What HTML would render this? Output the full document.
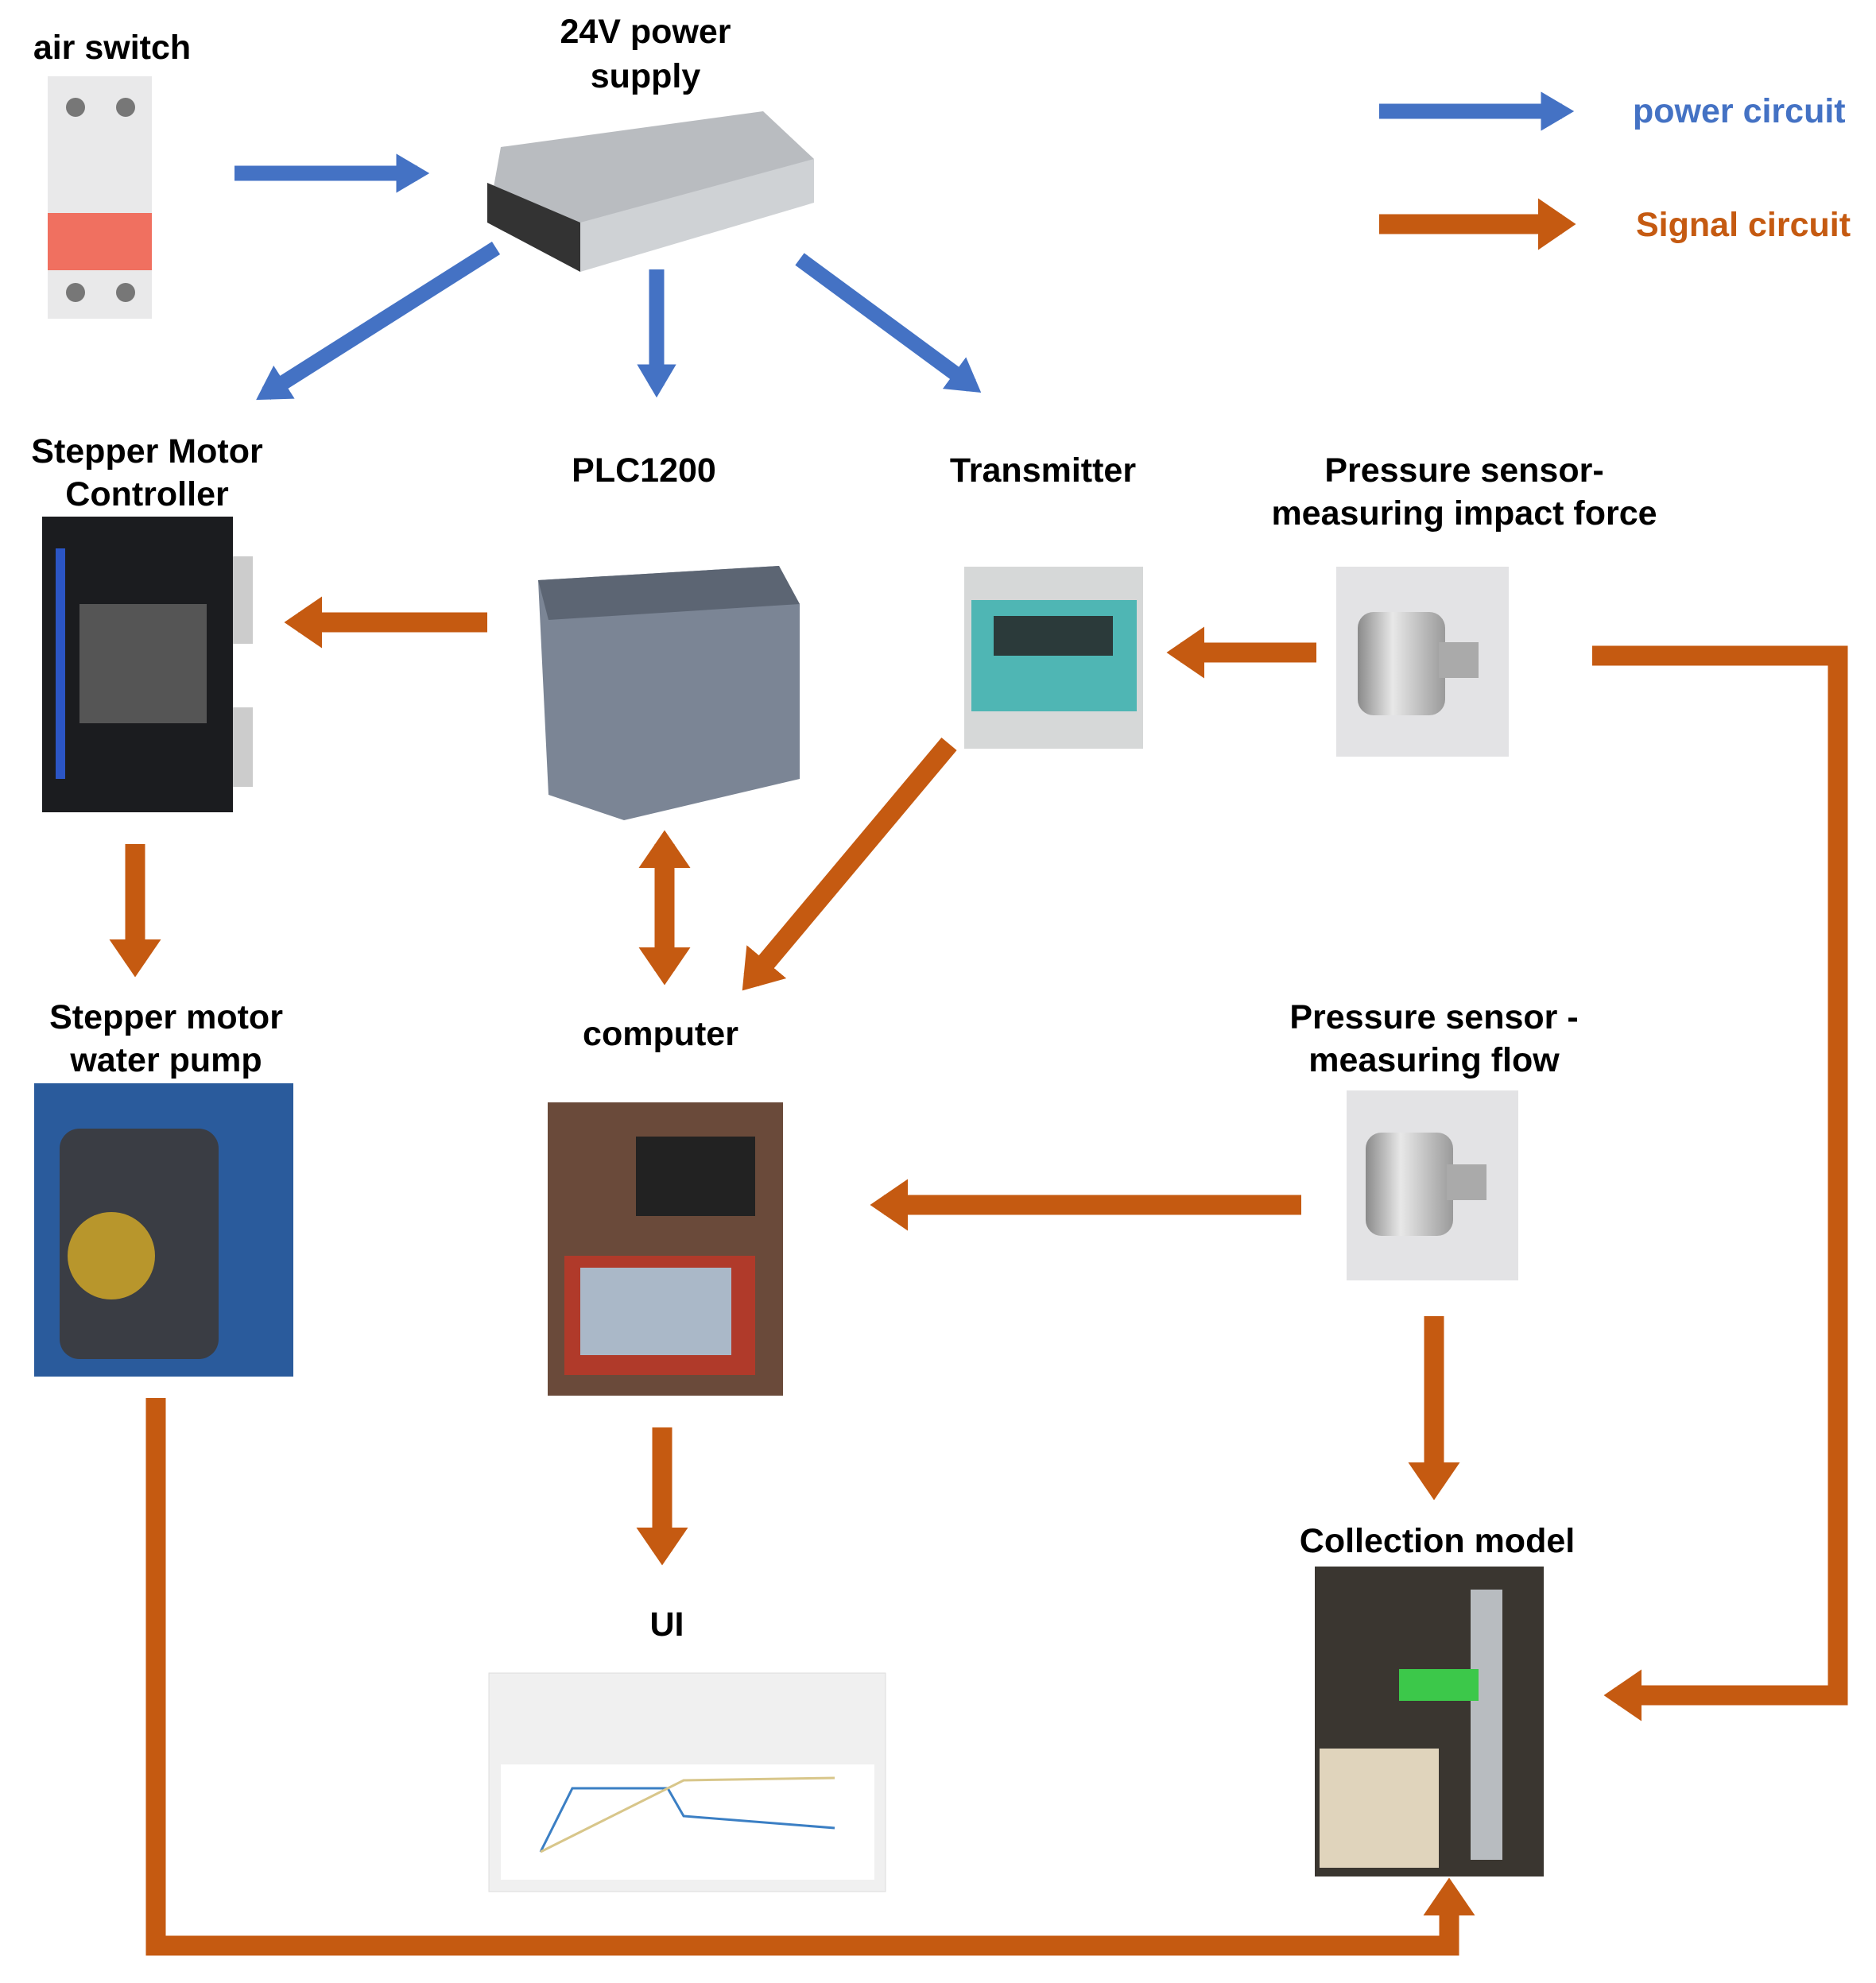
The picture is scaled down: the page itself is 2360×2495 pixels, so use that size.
<!DOCTYPE html>
<html><head><meta charset="utf-8"><style>
html,body{margin:0;padding:0;background:#fff;}
svg{display:block;}
text{font-family:"Liberation Sans",sans-serif;font-weight:bold;}
</style></head><body>
<svg width="2360" height="2495" viewBox="0 0 2360 2495" xmlns="http://www.w3.org/2000/svg">
<defs>
<marker id="ab" markerWidth="3" markerHeight="2.6" refX="1.4" refY="1.3" orient="auto" markerUnits="strokeWidth"><path d="M0,0 L2.2,1.3 L0,2.6 Z" fill="#4472c4"/></marker>
<marker id="ao" markerWidth="3" markerHeight="2.6" refX="1.2" refY="1.3" orient="auto" markerUnits="strokeWidth"><path d="M0,0 L1.9,1.3 L0,2.6 Z" fill="#c55a11"/></marker>
<marker id="aos" markerWidth="3" markerHeight="2.6" refX="0.7" refY="1.3" orient="auto" markerUnits="strokeWidth"><path d="M1.9,0 L0,1.3 L1.9,2.6 Z" fill="#c55a11"/></marker>
<linearGradient id="metal" x1="0" y1="0" x2="1" y2="0"><stop offset="0" stop-color="#8a8a8a"/><stop offset="0.4" stop-color="#e8e8e8"/><stop offset="1" stop-color="#9a9a9a"/></linearGradient>
</defs>

<rect x="60" y="96" width="131" height="305" fill="#e9e9ea"/>
<circle cx="95" cy="135" r="12" fill="#777"/><circle cx="158" cy="135" r="12" fill="#777"/>
<rect x="60" y="268" width="131" height="72" fill="#f07060"/>
<circle cx="95" cy="368" r="12" fill="#777"/><circle cx="158" cy="368" r="12" fill="#777"/>
<polygon points="630,185 960,140 1024,200 730,342 613,280" fill="#b9bcc0"/>
<polygon points="613,230 730,280 730,342 613,280" fill="#333"/>
<polygon points="730,280 1024,200 1024,255 730,342" fill="#cfd2d5"/>
<rect x="53" y="650" width="240" height="372" fill="#1b1c1f"/>
<rect x="70" y="690" width="12" height="290" fill="#2b55c5"/>
<rect x="100" y="760" width="160" height="150" fill="#555"/>
<rect x="293" y="700" width="25" height="110" fill="#ccc"/><rect x="293" y="890" width="25" height="100" fill="#ccc"/>
<polygon points="677,730 980,712 1006,760 1006,980 785,1032 690,1000" fill="#7b8595"/>
<polygon points="677,730 980,712 1006,760 690,780" fill="#5c6573"/>
<rect x="1213" y="713" width="225" height="229" fill="#d6d8d8"/>
<rect x="1222" y="755" width="208" height="140" fill="#4fb6b4"/>
<rect x="1250" y="775" width="150" height="50" fill="#2b3a3a"/>
<rect x="1681" y="713" width="217" height="239" fill="#e3e3e5"/>
<rect x="1708" y="770" width="110" height="130" rx="20" fill="url(#metal)"/>
<rect x="1810" y="808" width="50" height="45" fill="#aaa"/>
<rect x="43" y="1363" width="326" height="369" fill="#2a5b9c"/>
<rect x="75" y="1420" width="200" height="290" rx="25" fill="#3a3d44"/>
<circle cx="140" cy="1580" r="55" fill="#b8962c"/>
<rect x="689" y="1387" width="296" height="369" fill="#6a4a3a"/>
<rect x="800" y="1430" width="150" height="100" fill="#222"/>
<rect x="710" y="1580" width="240" height="150" fill="#b03a2a"/>
<rect x="730" y="1595" width="190" height="110" fill="#aab8c8"/>
<rect x="1694" y="1372" width="216" height="239" fill="#e3e3e5"/>
<rect x="1718" y="1425" width="110" height="130" rx="20" fill="url(#metal)"/>
<rect x="1820" y="1465" width="50" height="45" fill="#aaa"/>
<rect x="615" y="2105" width="499" height="275" fill="#f0f0f0" stroke="#ddd"/>
<rect x="630" y="2220" width="470" height="145" fill="#fff"/>
<polyline points="680,2330 720,2250 840,2250 860,2285 1050,2300" fill="none" stroke="#3b7fc4" stroke-width="3"/>
<polyline points="680,2330 760,2290 860,2240 1050,2237" fill="none" stroke="#d8c68a" stroke-width="3"/>
<rect x="1654" y="1971" width="288" height="390" fill="#3a3630"/>
<rect x="1660" y="2200" width="150" height="150" fill="#e0d4bc"/>
<rect x="1850" y="2000" width="40" height="340" fill="#b8bcc0"/>
<rect x="1760" y="2100" width="100" height="40" fill="#3cc84a"/>

<g stroke="#4472c4" stroke-width="19" fill="none" marker-end="url(#ab)">
<line x1="295" y1="218" x2="525" y2="218"/>
<line x1="624" y1="312" x2="335" y2="495"/>
<line x1="826" y1="339" x2="826" y2="485"/>
<line x1="1006" y1="326" x2="1222" y2="485"/>
<line x1="1735" y1="140" x2="1965" y2="140"/>
</g>
<g stroke="#c55a11" stroke-width="25" fill="none" marker-end="url(#ao)">
<line x1="1735" y1="282" x2="1965" y2="282"/>
<line x1="613" y1="783" x2="375" y2="783"/>
<line x1="1656" y1="821" x2="1485" y2="821"/>
<polyline points="2003,825 2312,825 2312,2133 2035,2133"/>
<line x1="170" y1="1062" x2="170" y2="1212"/>
<line x1="836" y1="1062" x2="836" y2="1222" marker-start="url(#aos)"/>
<line x1="1194" y1="936" x2="945" y2="1233"/>
<line x1="1637" y1="1516" x2="1112" y2="1516"/>
<line x1="1804" y1="1656" x2="1804" y2="1870"/>
<line x1="833" y1="1796" x2="833" y2="1952"/>
<polyline points="196,1759 196,2448 1823,2448 1823,2380"/>
</g>

<g font-size="43" fill="#000" text-anchor="middle">
<text x="141" y="74">air switch</text>
<text x="812" y="54">24V power</text>
<text x="812" y="110">supply</text>
<text x="185" y="582">Stepper Motor</text>
<text x="185" y="636">Controller</text>
<text x="810" y="606">PLC1200</text>
<text x="1312" y="606">Transmitter</text>
<text x="1842" y="606">Pressure sensor-</text>
<text x="1842" y="660">measuring impact force</text>
<text x="209" y="1294">Stepper motor</text>
<text x="209" y="1348">water pump</text>
<text x="831" y="1315">computer</text>
<text x="1804" y="1294">Pressure sensor -</text>
<text x="1804" y="1348">measuring flow</text>
<text x="839" y="2058">UI</text>
<text x="1808" y="1953">Collection model</text>
</g>
<text x="2054" y="154" font-size="43" fill="#4472c4">power circuit</text>
<text x="2058" y="297" font-size="43" fill="#c55a11">Signal circuit</text>
</svg>
</body></html>
